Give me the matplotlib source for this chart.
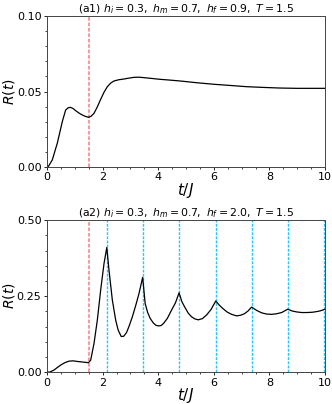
import numpy as np
import matplotlib
matplotlib.use("Agg")
import matplotlib.pyplot as plt
from matplotlib.ticker import AutoMinorLocator, FormatStrFormatter

# (a1) hf = 0.9
t_a1 = [0.0, 0.04, 0.19, 0.37, 0.55, 0.67, 0.76, 0.84, 0.93, 1.03, 1.15, 1.27, 1.38, 1.49,
        1.58, 1.69, 1.81, 1.93, 2.05, 2.17, 2.29, 2.41, 2.58, 2.77, 2.95, 3.13, 3.3, 3.49,
        3.75, 4.06, 4.4, 4.78, 5.4, 6.0, 6.6, 7.18, 7.8, 8.38, 9.0, 9.5, 10.0]
r_a1 = [0.0, 0.0, 0.0046, 0.0157, 0.030, 0.0377, 0.0392, 0.0395, 0.0388, 0.0373, 0.0357,
        0.0344, 0.0335, 0.0329, 0.0335, 0.0355, 0.0398, 0.0448, 0.0495, 0.0532, 0.0556,
        0.0570, 0.0578, 0.0583, 0.0589, 0.0594, 0.0595, 0.0592, 0.0587, 0.0581, 0.0576,
        0.0570, 0.0558, 0.0548, 0.0540, 0.0532, 0.0527, 0.0523, 0.0521, 0.0521, 0.0521]

# (a2) hf = 2.0
t_a2 = [0.0, 0.1, 0.25, 0.37, 0.49, 0.64, 0.79, 0.94, 1.09, 1.29, 1.49, 1.57, 1.69, 1.81,
        1.93, 2.05, 2.15, 2.23, 2.35, 2.47, 2.56, 2.67, 2.76, 2.86, 2.96, 3.07, 3.19, 3.31,
        3.44, 3.53, 3.62, 3.71, 3.82, 3.92, 4.0, 4.1, 4.19, 4.33, 4.48, 4.62, 4.75,
        4.85, 4.96, 5.08, 5.2, 5.32, 5.44, 5.59, 5.74, 5.9, 6.07, 6.2, 6.34, 6.49, 6.64,
        6.82, 6.96, 7.1, 7.23, 7.36, 7.54, 7.72, 7.9, 8.08, 8.26, 8.44, 8.66, 8.82,
        8.98, 9.16, 9.34, 9.55, 9.76, 9.88, 10.0]
r_a2 = [0.0, 0.0, 0.0066, 0.015, 0.023, 0.031, 0.036, 0.037, 0.035, 0.033, 0.031, 0.039,
        0.094, 0.171, 0.27, 0.357, 0.410, 0.335, 0.237, 0.171, 0.138, 0.117, 0.118, 0.130,
        0.153, 0.182, 0.219, 0.259, 0.312, 0.226, 0.196, 0.177, 0.162, 0.154, 0.152,
        0.153, 0.160, 0.177, 0.204, 0.228, 0.261, 0.232, 0.213, 0.194, 0.182, 0.175,
        0.172, 0.176, 0.188, 0.206, 0.234, 0.220, 0.208, 0.197, 0.190, 0.185, 0.187,
        0.192, 0.201, 0.214, 0.203, 0.195, 0.191, 0.190, 0.192, 0.196, 0.207, 0.201,
        0.198, 0.196, 0.196, 0.197, 0.200, 0.203, 0.207]

t_quench = 1.5
t_crit = [2.15, 3.45, 4.76, 6.07, 7.37, 8.67, 9.98]

titles = [r"(a1) $h_i=0.3,\ h_m=0.7,\ h_f=0.9,\ T=1.5$",
          r"(a2) $h_i=0.3,\ h_m=0.7,\ h_f=2.0,\ T=1.5$"]

fig = plt.figure(figsize=(3.32, 4.04), dpi=100)
ax1 = fig.add_axes([0.1416, 0.587, 0.8374, 0.373])
ax2 = fig.add_axes([0.1416, 0.079, 0.8374, 0.376])

def style(ax, ymax, ymajor, title):
    ax.set_xlim(0, 10)
    ax.set_ylim(0, ymax)
    ax.set_xticks([0, 2, 4, 6, 8, 10])
    ax.set_yticks(np.arange(0, ymax + 1e-9, ymajor))
    ax.yaxis.set_major_formatter(FormatStrFormatter("%.2f"))
    ax.xaxis.set_minor_locator(AutoMinorLocator(4))
    ax.yaxis.set_minor_locator(AutoMinorLocator(5))
    ax.tick_params(labelsize=8, length=2.5, width=0.6, pad=1.5)
    ax.tick_params(which="minor", length=1.5, width=0.5)
    for sp in ax.spines.values():
        sp.set_linewidth(0.7)
        sp.set_color("#444444")
    ax.set_title(title, fontsize=7.8, pad=2)
    ax.set_xlabel(r"$t/J$", fontsize=11, labelpad=-1)
    ax.set_ylabel(r"$R(t)$", fontsize=10, labelpad=0)

red_kw = dict(color="#ff8f8f", ls=(0, (2, 1)), lw=1.3)
blue_kw = dict(color="#1ec8ff", ls=(0, (2, 1)), lw=1.0)

ax1.axvline(t_quench, **red_kw)
ax1.plot(t_a1, r_a1, color="black", lw=0.9)
style(ax1, 0.10, 0.05, titles[0])

ax2.axvline(t_quench, **red_kw)
for tc in t_crit:
    ax2.axvline(tc, **blue_kw)
ax2.plot(t_a2, r_a2, color="black", lw=0.9)
style(ax2, 0.50, 0.25, titles[1])

fig.savefig("out.png", dpi=100)
